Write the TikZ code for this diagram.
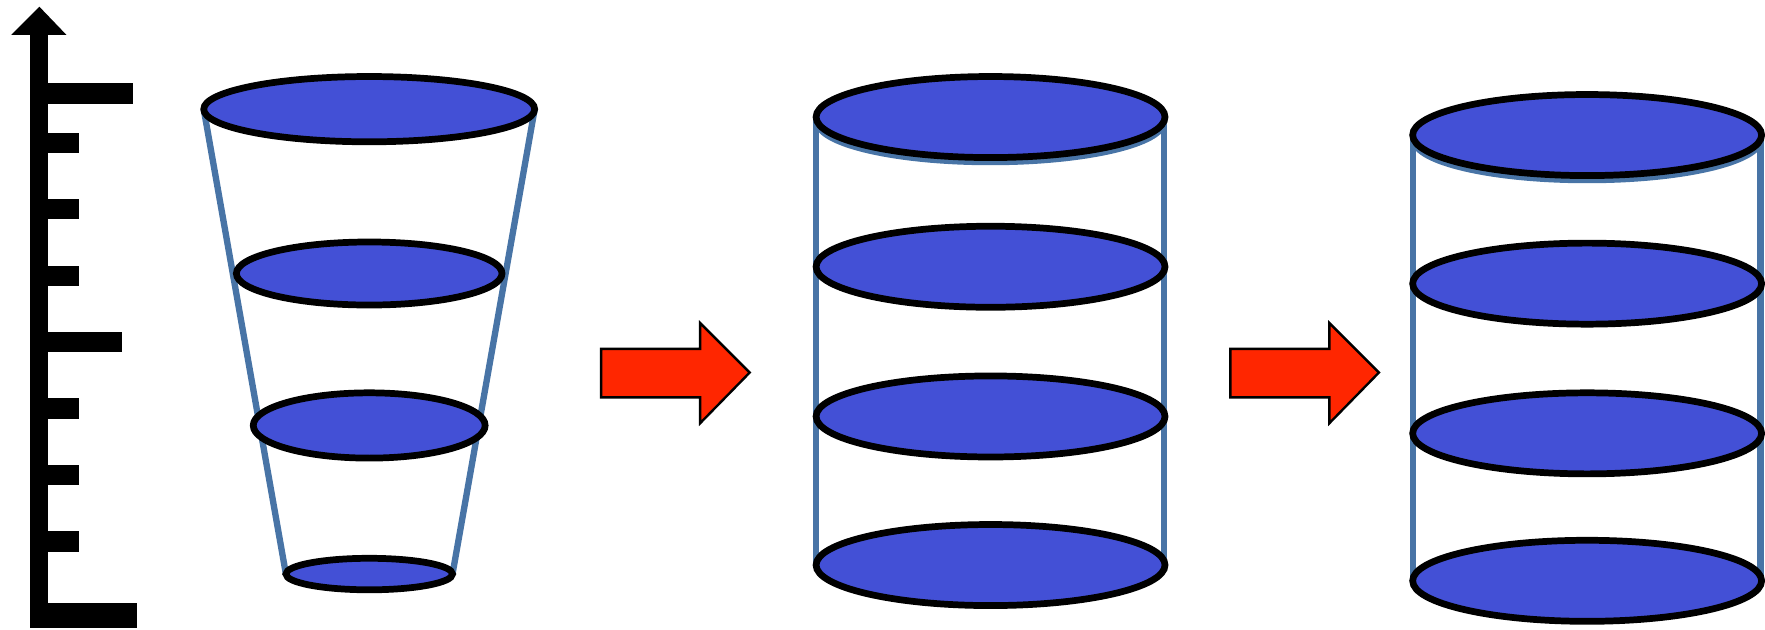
\documentclass[tikz,border=0pt]{standalone}
\usetikzlibrary{positioning}
\definecolor{discblue}{RGB}{67,80,214}
\definecolor{rimblue}{RGB}{72,116,166}
\definecolor{arrowred}{RGB}{255,38,0}
\tikzset{
  disc/.style={fill=discblue, draw=black, line width=1.7pt},
  rim/.style={draw=rimblue, line width=1.6pt},
  bigarrow/.style={fill=arrowred, draw=black, line width=0.6pt}
}
\newcommand{\fatarrow}[1]{%
  \filldraw[bigarrow] (#1,310) -- ++(88,0) -- ++(0,-23) -- ++(44,44)
    -- ++(-44,45) -- ++(0,-23) -- ++(-88,0) -- cycle;}
\begin{document}
\begin{tikzpicture}[x=0.01cm, y=-0.01cm]
  \useasboundingbox (0,0) rectangle (1568,559);

  % Ruler on the left
  \fill (27,31) rectangle (43,558);
  \fill (10,31) -- (35,6) -- (59,31) -- cycle;
  \fill (43,74) rectangle (118,92);
  \fill (43,295) rectangle (108,313);
  \fill (43,536) rectangle (122,558);
  \foreach \y in {118,177,236,354,413,472}
    \fill (43,\y) rectangle (70,\y+18);

  % Cone
  \coordinate (coneTL) at (181,97);
  \coordinate (coneTR) at (475,97);
  \coordinate (coneBL) at (254,510);
  \coordinate (coneBR) at (402,510);
  \draw[rim] (coneTL) -- (coneBL);
  \draw[rim] (coneTR) -- (coneBR);
  \draw[disc] (328,97) ellipse [x radius=147, y radius=29];
  \draw[disc] (328,243) ellipse [x radius=118, y radius=28];
  \draw[disc] (328,378) ellipse [x radius=103, y radius=29];
  \draw[disc] (328,510) ellipse [x radius=74, y radius=14];

  % Arrows
  \fatarrow{534}
  \fatarrow{1093}

  % First cylinder
  \draw[rim] (725,104) -- (725,502);
  \draw[rim] (1034,104) -- (1034,502);
  \draw[rim, fill=discblue] (880,108) ellipse [x radius=154, y radius=36];
  \foreach \y in {104,237,370,502}
    \draw[disc] (880,\y) ellipse [x radius=155, y radius=36];

  % Second cylinder
  \draw[rim] (1255,120) -- (1255,516);
  \draw[rim] (1564,120) -- (1564,516);
  \draw[rim, fill=discblue] (1410,124) ellipse [x radius=154, y radius=36];
  \foreach \y in {120,252,385,516}
    \draw[disc] (1410,\y) ellipse [x radius=155, y radius=36];
\end{tikzpicture}
\end{document}
